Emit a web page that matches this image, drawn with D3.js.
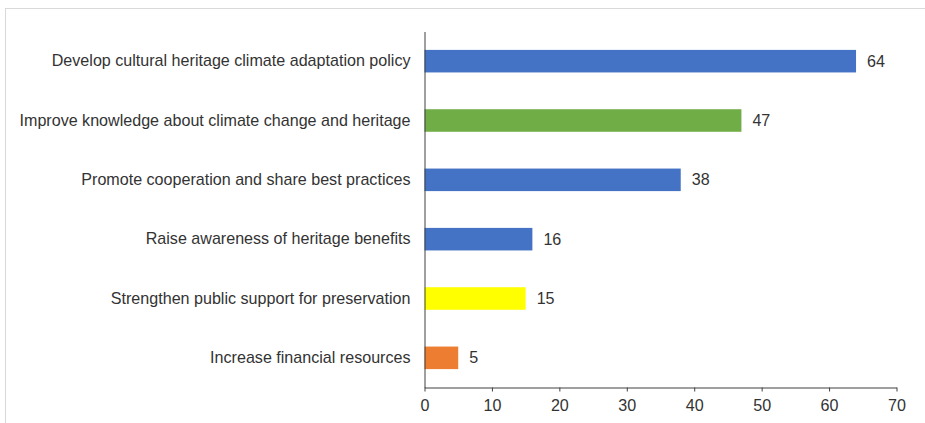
<!DOCTYPE html>
<html><head><meta charset="utf-8">
<script src="https://cdn.jsdelivr.net/npm/d3@7"></script>
<style>body{margin:0;background:#fff;}svg{display:block;}</style>
</head><body>
<svg id="c" width="925" height="423"></svg>
<script>
const categories = [
  "Develop cultural heritage climate adaptation policy",
  "Improve knowledge about climate change and heritage",
  "Promote cooperation and share best practices",
  "Raise awareness of heritage benefits",
  "Strengthen public support for preservation",
  "Increase financial resources"
];
const values = [64, 47, 38, 16, 15, 5];
const colors = ["#4472C4", "#70AD47", "#4472C4", "#4472C4", "#FFFF00", "#ED7D31"];
const xTicks = [0, 10, 20, 30, 40, 50, 60, 70];

const svg = d3.select("#c");
const font = "Arial, 'Liberation Sans', sans-serif";
const textColor = "#333333";
const fs = 16.1;

svg.append("rect").attr("x", 5.5).attr("y", 8.5).attr("width", 1000).attr("height", 1000)
  .attr("fill", "none").attr("stroke", "#d9d9d9").attr("stroke-width", 1);

const pLeft = 424.5, pRight = 896.5, pTop = 31.5, pBottom = 387.5;
const x = d3.scaleLinear().domain([0, 70]).range([pLeft, pRight]);
const y = d3.scaleBand().domain(categories).range([pTop, pBottom]).paddingInner(0.62).paddingOuter(0.31);

const g = svg.append("g");
g.selectAll("rect.bar").data(values).enter().append("rect")
  .attr("class", "bar")
  .attr("x", x(0))
  .attr("y", (d, i) => y(categories[i]))
  .attr("width", d => x(d) - x(0))
  .attr("height", y.bandwidth())
  .attr("fill", (d, i) => colors[i]);

g.selectAll("text.val").data(values).enter().append("text")
  .attr("class", "val")
  .attr("x", d => x(d) + 11)
  .attr("y", (d, i) => y(categories[i]) + y.bandwidth() / 2)
  .attr("dy", "0.35em")
  .attr("font-family", font).attr("font-size", fs).attr("fill", textColor)
  .text(d => d);

const xAxis = svg.append("g").attr("transform", `translate(0,${pBottom})`)
  .call(d3.axisBottom(x).tickValues(xTicks).tickSize(4).tickSizeOuter(0).tickPadding(8));
xAxis.select(".domain").attr("stroke", "#404040");
xAxis.selectAll(".tick line").attr("stroke", "#404040");
xAxis.selectAll(".tick text").attr("font-family", font).attr("font-size", fs).attr("fill", textColor);

const yAxis = svg.append("g").attr("transform", `translate(${pLeft},0)`)
  .call(d3.axisLeft(y).tickSize(0).tickPadding(14));
yAxis.select(".domain").attr("stroke", "#404040");
yAxis.selectAll(".tick text").attr("font-family", font).attr("font-size", fs).attr("fill", textColor);
</script>
</body></html>
